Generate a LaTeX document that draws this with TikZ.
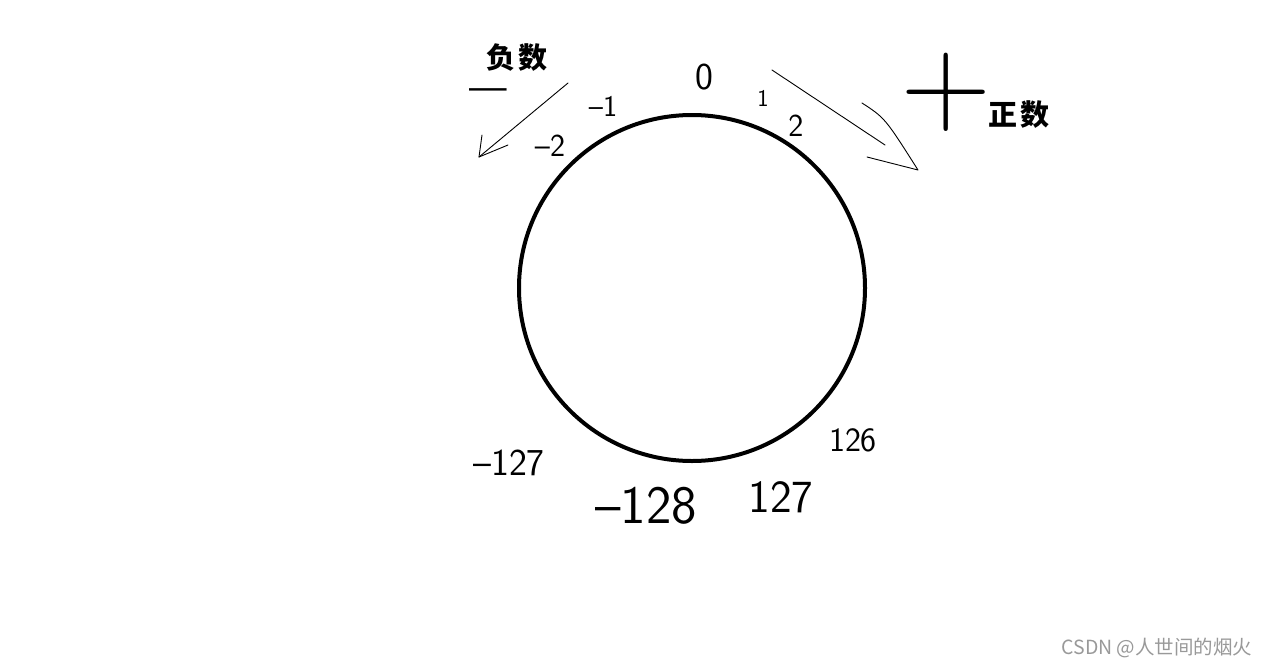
\documentclass[tikz,border=0pt]{standalone}
\usepackage{fontspec}
\newfontfamily\cjk{Noto Sans CJK SC}
\newcommand{\handsize}[1]{\sffamily\fontsize{#1}{#1}\selectfont}
\newcommand{\cjksize}[1]{\cjk\fontsize{#1}{#1}\selectfont}

\begin{document}
\begin{tikzpicture}[x=1pt,y=-1pt]
  \tikzstyle{hand}=[inner sep=0pt]
  \tikzstyle{word}=[inner sep=0pt,font=\cjksize{29}\bfseries]
  \tikzstyle{stroke}=[line width=0.9pt,line cap=round,line join=round]
  \useasboundingbox (0,0) rectangle (1269,667);
  % ring
  \node[circle,draw,line width=4pt,minimum size=346pt,inner sep=0pt] (ring) at (692,288) {};
  % signs
  \node[word] (negword) at (517,58) {负\hspace{3pt}数};
  \node[word] (posword) at (1019,115) {正\hspace{3pt}数};
  \node[hand,font=\handsize{40}] (negsign) at (488,95) {\textemdash};
  \node[hand,font=\handsize{125}] (possign) at (946,92) {+};
  % values near zero
  \node[hand,font=\handsize{38}] (zero) at (704,77) {0};
  \node[hand,font=\handsize{24}] (one) at (763,98) {1};
  \node[hand,font=\handsize{32}] (two) at (796,126) {2};
  \node[hand,font=\handsize{30}] (mone) at (603,106) {--1};
  \node[hand,font=\handsize{32}] (mtwo) at (550,146) {--2};
  % values near the bottom
  \node[hand,font=\handsize{38}] (m127) at (509,463) {--127};
  \node[hand,font=\handsize{54}] (m128) at (646,506) {--128};
  \node[hand,font=\handsize{46}] (p127) at (781,497) {127};
  \node[hand,font=\handsize{34}] (p126) at (853,440) {126};
  % arrows
  \coordinate (ltail) at (568,83);
  \coordinate (ltip) at (479,157);
  \coordinate (lbarbA) at (482,135);
  \coordinate (lbarbB) at (508,145);
  \draw[stroke] (ltail) -- (ltip);
  \draw[stroke] (lbarbA) -- (ltip) -- (lbarbB);
  \coordinate (rtail) at (772,70);
  \coordinate (rend) at (885,145);
  \coordinate (rcurve) at (862,103);
  \coordinate (rtip) at (918,170);
  \coordinate (rbarb) at (867,157);
  \draw[stroke] (rtail) -- (rend);
  \draw[stroke] (rcurve) .. controls (885,118) .. (rtip) -- (rbarb);
  % mark
  \node[inner sep=0pt,text=black!40,font=\cjksize{19.5}] (mark) at (1157,648) {CSDN @人世间的烟火};
\end{tikzpicture}
\end{document}
